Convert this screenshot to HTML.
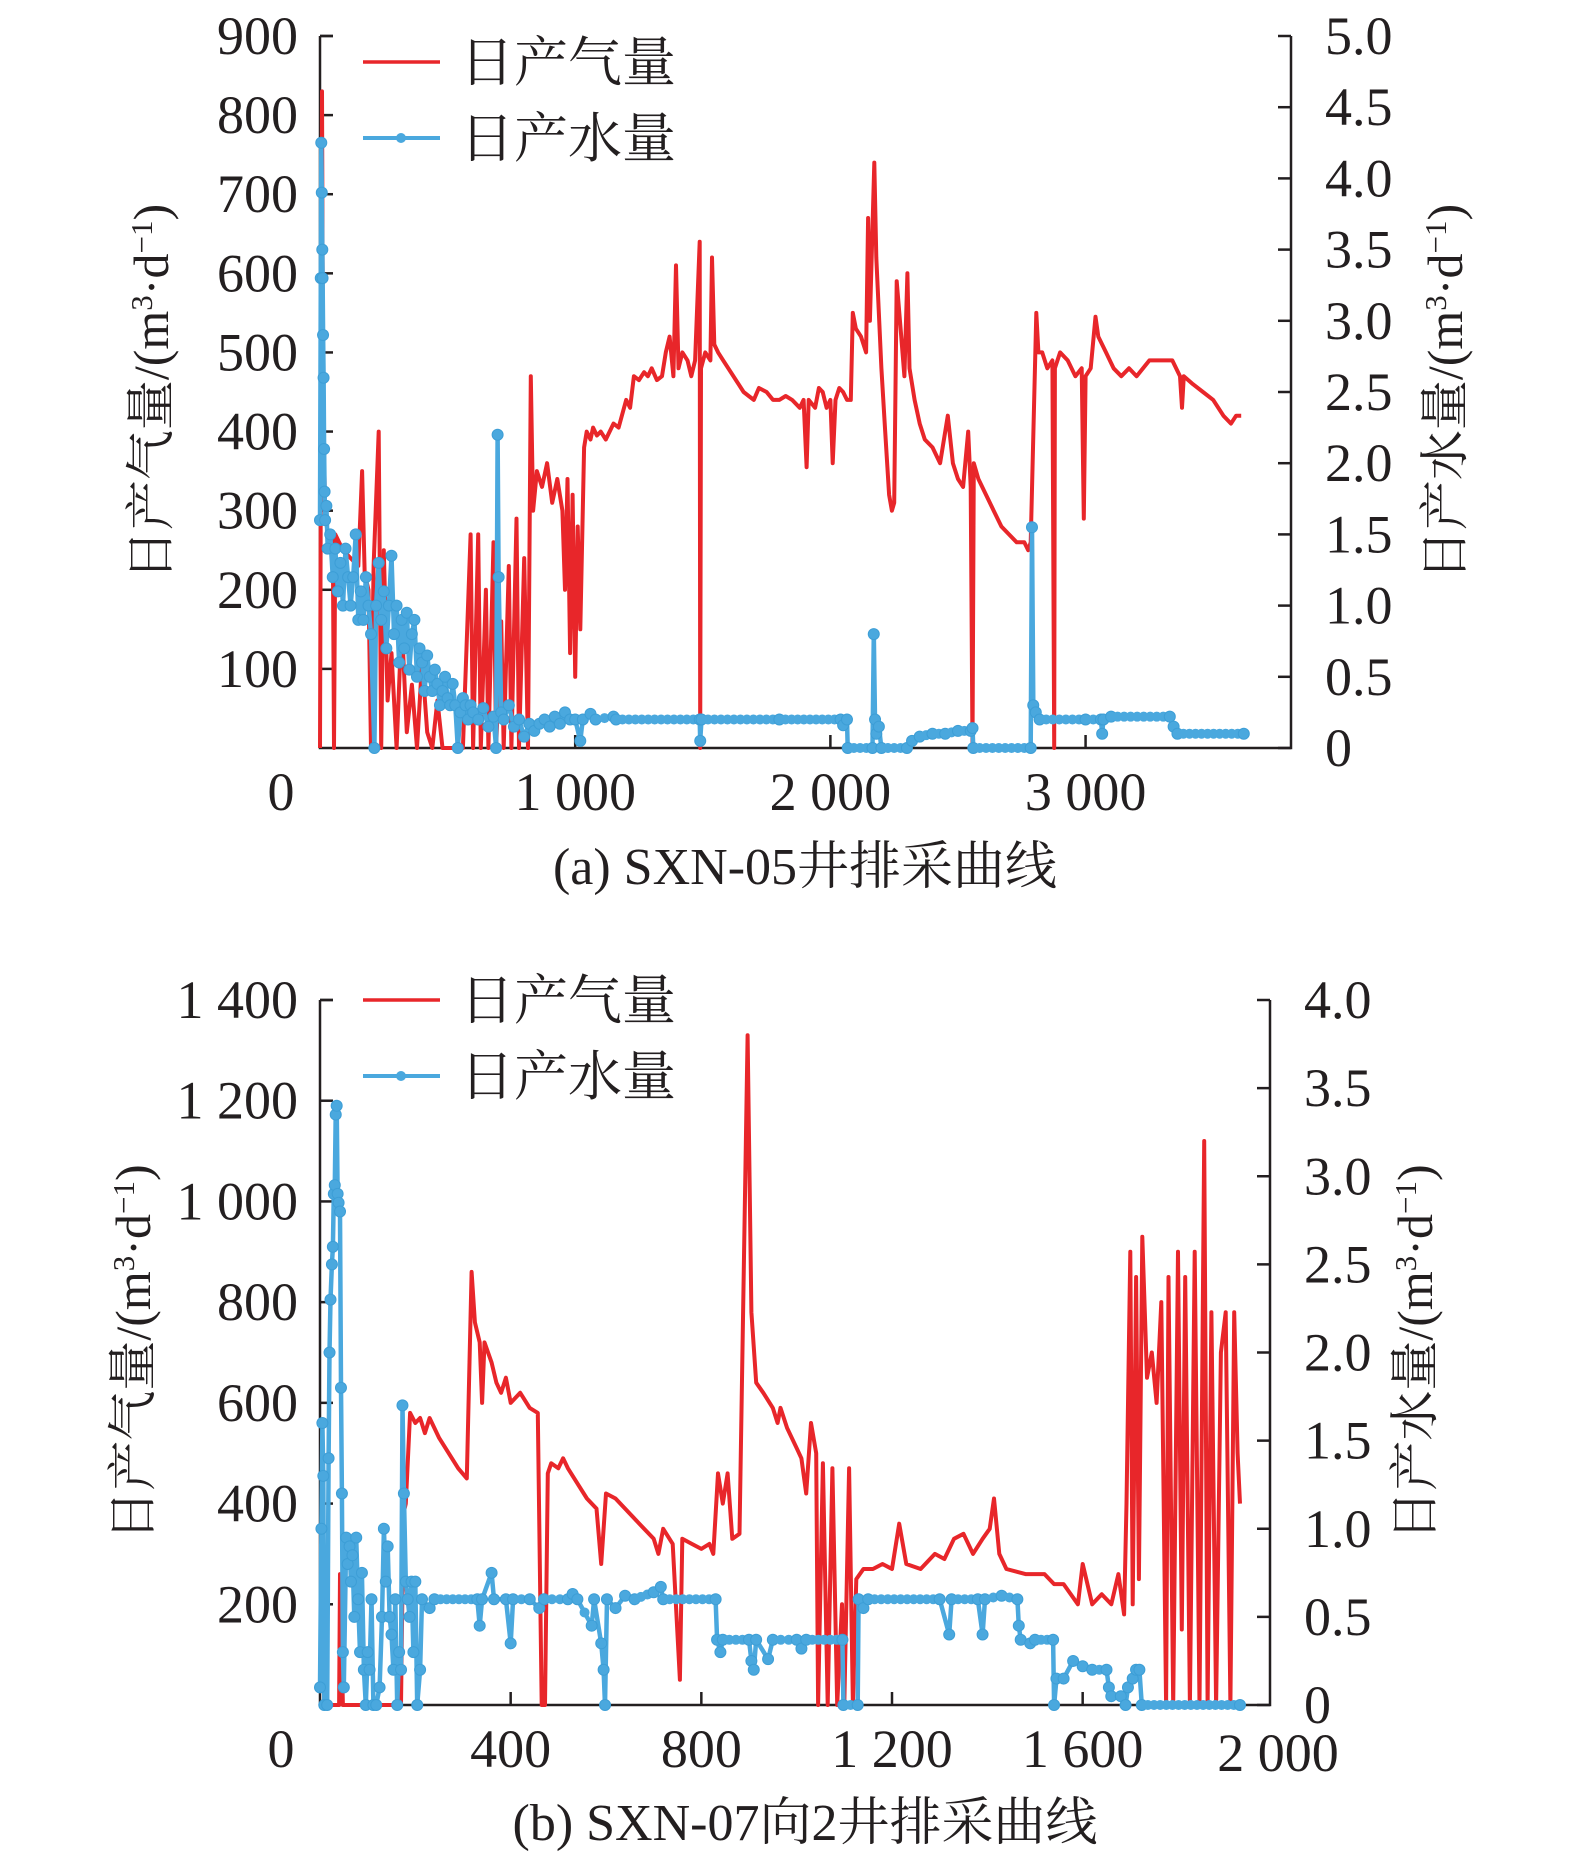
<!DOCTYPE html>
<html><head><meta charset="utf-8">
<style>
html,body{margin:0;padding:0;background:#fff;}
svg{display:block;}
text{font-family:"Liberation Serif","Noto Serif CJK SC","Noto Sans CJK SC",serif;fill:#231f20;}
</style></head>
<body>
<svg id="chart" width="1575" height="1860" viewBox="0 0 1575 1860" xmlns="http://www.w3.org/2000/svg">
<g id="ga"></g>
<g id="gb"></g>
<text x="805" y="884" font-size="52" text-anchor="middle">(a) SXN-05井排采曲线</text>
<text x="805" y="1840" font-size="52" text-anchor="middle">(b) SXN-07向2井排采曲线</text>
</svg>
<script>
// ---- Chart A data ----
const gasATicks = [100,200,300,400,500,600,700,800,900];
const watATicks = ["0","0.5","1.0","1.5","2.0","2.5","3.0","3.5","4.0","4.5","5.0"];
const xATicks = [1000,2000,3000];
const xATickLabels = ["1 000","2 000","3 000"];
const gasA = [[0,0],[8,830],[12,450],[20,300],[30,270],[50,265],[55,0],[60,270],[90,250],[120,240],[150,230],[165,350],[175,220],[190,200],[200,0],[210,230],[230,400],[240,0],[250,250],[265,60],[280,120],[300,0],[320,160],[340,20],[360,80],[380,0],[400,110],[420,20],[440,0],[460,60],[480,0],[560,0],[590,270],[600,0],[620,270],[630,0],[650,200],[660,0],[680,260],[690,0],[710,160],[720,0],[740,230],[750,0],[770,290],[780,0],[800,240],[815,0],[826,470],[835,300],[850,350],[870,330],[890,360],[910,310],[930,340],[950,300],[960,200],[970,340],[980,120],[990,320],[1000,90],[1010,280],[1020,150],[1035,380],[1045,400],[1060,390],[1070,405],[1085,395],[1100,400],[1120,390],[1150,410],[1170,405],[1200,440],[1215,430],[1230,470],[1250,465],[1270,475],[1285,470],[1300,480],[1320,465],[1340,470],[1355,500],[1370,520],[1385,470],[1395,610],[1405,480],[1420,500],[1440,490],[1455,470],[1470,490],[1488,640],[1490,0],[1493,480],[1510,500],[1530,490],[1536,620],[1545,510],[1560,500],[1580,490],[1600,480],[1620,470],[1640,460],[1660,450],[1680,445],[1700,440],[1720,455],[1750,450],[1775,440],[1800,440],[1825,445],[1850,440],[1880,430],[1895,440],[1907,355],[1915,440],[1940,430],[1955,455],[1970,450],[1985,430],[2000,440],[2009,360],[2020,440],[2035,455],[2050,450],[2065,440],[2080,440],[2088,550],[2100,530],[2120,520],[2140,500],[2148,670],[2155,540],[2172,740],[2180,620],[2200,480],[2215,400],[2230,320],[2241,300],[2250,310],[2260,590],[2275,530],[2290,470],[2302,600],[2310,480],[2330,440],[2350,410],[2370,390],[2400,380],[2430,360],[2460,420],[2480,360],[2500,340],[2520,330],[2540,400],[2550,330],[2557,0],[2562,360],[2580,340],[2610,320],[2640,300],[2670,280],[2700,270],[2730,260],[2760,260],[2775,250],[2785,260],[2807,550],[2815,500],[2830,500],[2850,480],[2870,490],[2877,0],[2880,480],[2900,500],[2930,490],[2960,470],[2985,480],[2993,290],[3000,470],[3020,480],[3039,545],[3050,520],[3080,500],[3110,480],[3140,470],[3170,480],[3200,470],[3250,490],[3300,490],[3340,490],[3370,470],[3378,430],[3385,470],[3420,460],[3460,450],[3500,440],[3540,420],[3570,410],[3590,420],[3610,420]];
const watA = [[0,1.6],[3,3.3],[5,4.25],[7,3.9],[9,3.5],[10,3.3],[12,2.9],[14,2.6],[16,2.1],[18,1.8],[20,1.6],[25,1.7],[30,1.4],[40,1.5],[50,1.2],[60,1.4],[70,1.1],[80,1.3],[90,1.0],[100,1.4],[110,1.2],[120,1.0],[130,1.2],[140,1.5],[150,0.9],[160,1.1],[170,0.9],[180,1.2],[190,1.0],[200,0.8],[213,0],[220,1.0],[230,1.3],[240,0.9],[250,1.1],[260,0.7],[270,1.0],[280,1.35],[290,0.8],[300,1.0],[310,0.6],[320,0.9],[330,0.7],[340,0.95],[350,0.55],[360,0.8],[370,0.9],[380,0.5],[390,0.7],[400,0.6],[410,0.4],[420,0.65],[430,0.5],[440,0.4],[450,0.55],[460,0.45],[470,0.3],[480,0.4],[490,0.5],[500,0.35],[510,0.3],[520,0.45],[530,0.3],[540,0],[550,0.25],[560,0.35],[570,0.3],[580,0.2],[590,0.3],[600,0.25],[620,0.2],[640,0.28],[660,0.15],[680,0.22],[690,0],[696,2.2],[700,1.2],[710,0.25],[720,0.2],[740,0.3],[760,0.15],[780,0.2],[800,0.08],[820,0.17],[840,0.12],[860,0.17],[880,0.2],[900,0.15],[920,0.22],[940,0.17],[960,0.25],[980,0.2],[1000,0.2],[1020,0.05],[1030,0.2],[1060,0.24],[1080,0.2],[1150,0.22],[1160,0.2],[1488,0.2],[1490,0.05],[1495,0.2],[1800,0.2],[2040,0.2],[2050,0.16],[2065,0.2],[2068,0],[2165,0],[2170,0.8],[2175,0.2],[2180,0.1],[2190,0.15],[2200,0],[2300,0],[2320,0.05],[2350,0.08],[2400,0.1],[2450,0.1],[2500,0.12],[2550,0.12],[2557,0.14],[2560,0],[2785,0],[2790,1.55],[2795,0.3],[2805,0.25],[2820,0.2],[3000,0.2],[3060,0.2],[3065,0.1],[3070,0.2],[3100,0.22],[3330,0.22],[3345,0.15],[3360,0.1],[3620,0.1]];

// ---- Chart B data ----
const gasBTicks = [200,400,600,800,1000,1200,1400];
const gasBTickLabels = ["200","400","600","800","1 000","1 200","1 400"];
const watBTicks = ["0","0.5","1.0","1.5","2.0","2.5","3.0","3.5","4.0"];
const xBTicks = [400,800,1200,1600];
const xBTickLabels = ["400","800","1 200","1 600"];
const gasB = [[0,0],[40,0],[42,260],[48,0],[170,0],[175,380],[180,400],[189,580],[200,560],[210,570],[220,540],[230,570],[250,530],[270,500],[290,470],[308,450],[318,860],[325,760],[335,720],[340,600],[345,720],[360,680],[370,640],[380,620],[390,650],[400,600],[420,620],[440,590],[457,580],[465,0],[472,0],[478,460],[485,480],[500,470],[510,490],[520,470],[540,440],[560,410],[580,390],[590,280],[600,420],[620,410],[650,380],[680,350],[700,330],[710,300],[720,350],[740,320],[755,50],[760,330],[780,320],[800,310],[817,320],[825,300],[835,460],[845,400],[855,460],[865,330],[880,340],[897,1330],[905,780],[915,640],[930,620],[950,590],[960,560],[966,590],[980,550],[1000,510],[1010,490],[1020,420],[1030,560],[1041,500],[1045,0],[1055,480],[1065,0],[1075,470],[1085,0],[1095,200],[1100,0],[1110,470],[1118,0],[1125,250],[1140,270],[1160,270],[1180,280],[1200,270],[1215,360],[1230,280],[1260,270],[1290,300],[1310,290],[1330,330],[1350,340],[1370,300],[1390,330],[1405,350],[1414,410],[1425,300],[1440,270],[1480,260],[1520,260],[1540,240],[1560,240],[1590,200],[1600,280],[1620,200],[1640,220],[1660,200],[1675,260],[1687,180],[1692,400],[1700,900],[1705,200],[1712,850],[1718,250],[1725,930],[1735,650],[1745,700],[1755,600],[1765,800],[1775,0],[1780,850],[1790,0],[1800,900],[1808,150],[1815,850],[1825,0],[1835,900],[1845,0],[1855,1120],[1862,0],[1870,780],[1880,0],[1890,700],[1900,780],[1910,0],[1918,780],[1925,500],[1930,400]];
const watB = [[0,0.1],[3,1.0],[5,1.6],[7,1.3],[9,0],[15,0],[18,1.4],[20,2.0],[22,2.3],[25,2.5],[27,2.6],[29,2.9],[31,2.95],[33,3.35],[35,3.4],[37,2.9],[39,2.85],[42,2.8],[44,1.8],[46,1.2],[48,0.3],[50,0.1],[55,0.95],[58,0.8],[62,0.9],[65,0.7],[68,0.85],[72,0.5],[76,0.95],[80,0.6],[84,0.3],[88,0.75],[92,0.2],[96,0],[100,0.3],[104,0.2],[108,0.6],[112,0],[118,0],[125,0.1],[130,0.5],[134,1.0],[138,0.7],[142,0.9],[146,0.5],[150,0.4],[154,0.2],[158,0.6],[162,0],[166,0.3],[170,0.2],[173,1.7],[176,1.2],[180,0.7],[184,0.6],[188,0.5],[192,0.7],[196,0.3],[200,0.7],[204,0],[210,0.2],[214,0.6],[230,0.55],[240,0.6],[330,0.6],[335,0.45],[340,0.6],[360,0.75],[365,0.6],[390,0.6],[400,0.35],[405,0.6],[440,0.6],[460,0.55],[470,0.6],[520,0.6],[530,0.63],[540,0.6],[570,0.45],[575,0.6],[590,0.35],[595,0.2],[598,0],[602,0.6],[620,0.55],[640,0.62],[660,0.6],[700,0.64],[715,0.67],[720,0.6],[830,0.6],[833,0.37],[840,0.3],[845,0.37],[900,0.37],[905,0.25],[910,0.2],[915,0.37],[940,0.26],[950,0.37],[1000,0.37],[1010,0.32],[1020,0.37],[1096,0.37],[1098,0],[1128,0],[1130,0.6],[1140,0.55],[1150,0.6],[1300,0.6],[1320,0.4],[1325,0.6],[1380,0.6],[1390,0.4],[1395,0.6],[1430,0.62],[1463,0.6],[1466,0.45],[1470,0.37],[1490,0.35],[1500,0.37],[1538,0.37],[1540,0],[1545,0.15],[1560,0.15],[1580,0.25],[1600,0.22],[1620,0.2],[1650,0.2],[1655,0.1],[1660,0.05],[1680,0.05],[1690,0],[1695,0.1],[1705,0.15],[1712,0.2],[1719,0.2],[1724,0],[1930,0]];

const NS = "http://www.w3.org/2000/svg";
const RED = "#e8262a", BLUE = "#4aa8de";
function mk(parent, tag, attrs, txt){
  const el = document.createElementNS(NS, tag);
  for (const k in attrs) el.setAttribute(k, attrs[k]);
  if (txt !== undefined) el.textContent = txt;
  parent.appendChild(el);
  return el;
}

function drawChart(g, cfg){
  const {L,R,T,B,xMax,gMax,wMax} = cfg;
  const xs = d => L + d/xMax*(R-L);
  const yg = v => B - v/gMax*(B-T);
  const yw = v => B - v/wMax*(B-T);
  const ax = mk(g,'path',{d:`M${L},${T} L${L},${B} L${R},${B} L${R},${T}`,fill:'none',stroke:'#231f20','stroke-width':2.5});
  
  
  cfg.gTicks.forEach((v,i)=>{
    const y = yg(v);
    const t = mk(g,'line',{x1:L,y1:y,x2:L+13,y2:y,stroke:'#231f20','stroke-width':2.5});
    
    
    const lb = mk(g,'text',{x:L-22,y:y+18,'font-size':54,'text-anchor':'end'}, cfg.gLabels[i]);
    
    
  });
  mk(g,'line',{x1:L,y1:T,x2:L+13,y2:T,stroke:'#231f20','stroke-width':2.5});
  const zl = mk(g,'text',{x:281,y:B+62,'font-size':54,'text-anchor':'middle'},'0');
  
  
  cfg.wLabels.forEach((s,i)=>{
    const y = yw(parseFloat(s));
    const t = mk(g,'line',{x1:R-13,y1:y,x2:R,y2:y,stroke:'#231f20','stroke-width':2.5});
    
    
    const lb = mk(g,'text',{x:R+34,y:y+18,'font-size':54,'text-anchor':'start'}, s);
    
    
  });
  cfg.xTicks.forEach((d,i)=>{
    const x = xs(d);
    const t = mk(g,'line',{x1:x,y1:B,x2:x,y2:B-13,stroke:'#231f20','stroke-width':2.5});
    
    
    const lb = mk(g,'text',{x:x,y:B+62,'font-size':54,'text-anchor':'middle'}, cfg.xLabels[i]);
    
    
  });
  if (cfg.xEndLabel){
    const lb = mk(g,'text',{x:R+8,y:B+66,'font-size':54,'text-anchor':'middle'}, cfg.xEndLabel);
    
    
  }
  const cy = (T+B)/2;
  const lt = mk(g,'text',{x:0,y:0,'font-size':50,'text-anchor':'middle',transform:`translate(${cfg.ltx},${cy}) rotate(-90)`});
  
  
  lt.innerHTML = '日产气量/(m<tspan dy="-16" font-size="31">3</tspan><tspan dy="16">·d</tspan><tspan dy="-16" font-size="31">−1</tspan><tspan dy="16">)</tspan>';
  const rt = mk(g,'text',{x:0,y:0,'font-size':50,'text-anchor':'middle',transform:`translate(${cfg.rtx},${cy}) rotate(-90)`});
  
  
  rt.innerHTML = '日产水量/(m<tspan dy="-16" font-size="31">3</tspan><tspan dy="16">·d</tspan><tspan dy="-16" font-size="31">−1</tspan><tspan dy="16">)</tspan>';
  const gp = mk(g,'polyline',{points:cfg.gas.map(p=>xs(p[0]).toFixed(1)+','+yg(p[1]).toFixed(1)).join(' '),fill:'none',stroke:RED,'stroke-width':4,'stroke-linejoin':'round'});
  
  
  const wp = mk(g,'polyline',{points:cfg.wat.map(p=>xs(p[0]).toFixed(1)+','+yw(p[1]).toFixed(1)).join(' '),fill:'none',stroke:BLUE,'stroke-width':4.5,'stroke-linejoin':'round'});
  
  
  cfg.wat.forEach((p,i)=>{
    if (i>0){
      const q = cfg.wat[i-1];
      const n = Math.floor((xs(p[0])-xs(q[0]))/6);
      for (let k=1;k<n;k++){
        const f = k/n;
        mk(g,'circle',{cx:xs(q[0])+(xs(p[0])-xs(q[0]))*f,cy:yw(q[1])+(yw(p[1])-yw(q[1]))*f,r:5,fill:BLUE});
      }
    }
    const c = mk(g,'circle',{cx:xs(p[0]),cy:yw(p[1]),r:5.5,fill:BLUE,stroke:'#3d9ed6','stroke-width':1});
    
    
  });
  const ly1 = cfg.legY, ly2 = cfg.legY+76;
  const l1 = mk(g,'line',{x1:363,y1:ly1,x2:440,y2:ly1,stroke:RED,'stroke-width':3.5});
  
  
  const t1 = mk(g,'text',{x:460,y:ly1+19,'font-size':54},'日产气量');
  
  
  const l2 = mk(g,'line',{x1:363,y1:ly2,x2:440,y2:ly2,stroke:BLUE,'stroke-width':4});
  
  
  mk(g,'circle',{cx:401,cy:ly2,r:5,fill:BLUE});
  const t2 = mk(g,'text',{x:460,y:ly2+19,'font-size':54},'日产水量');
  
  
}

drawChart(document.getElementById('ga'),{
  L:320,R:1291,T:36,B:748,xMax:3805,gMax:900,wMax:5,
  gTicks:gasATicks,gLabels:gasATicks.map(String),wLabels:watATicks,
  xTicks:xATicks,xLabels:xATickLabels,gas:gasA,wat:watA,
  ltx:168,rtx:1462,legY:62
});
drawChart(document.getElementById('gb'),{
  L:320,R:1270,T:1000,B:1705,xMax:1993,gMax:1400,wMax:4,
  gTicks:gasBTicks,gLabels:gasBTickLabels,wLabels:watBTicks,
  xTicks:xBTicks,xLabels:xBTickLabels,xEndLabel:"2 000",gas:gasB,wat:watB,
  ltx:150,rtx:1432,legY:1000
});
</script>
</body></html>
